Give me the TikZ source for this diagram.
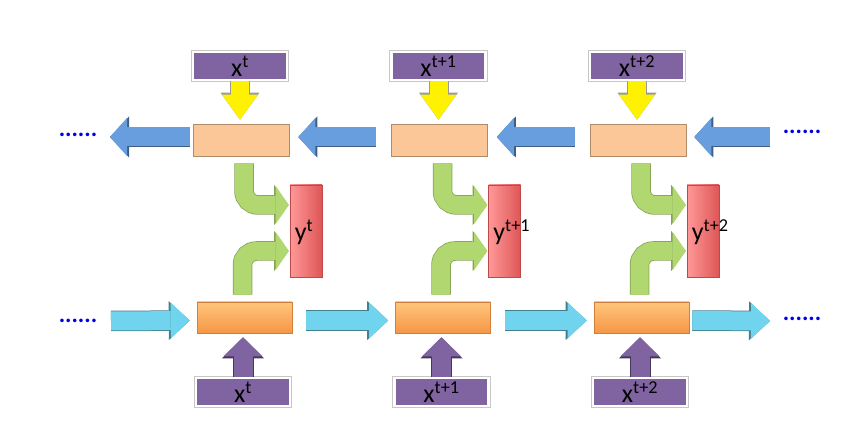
\documentclass[tikz,border=0pt]{standalone}
\usepackage{fontspec}
\setmainfont{Carlito}
\usetikzlibrary{arrows.meta,calc}
\definecolor{inpurple}{RGB}{128,100,162}
\definecolor{peach}{RGB}{252,199,152}
\definecolor{orangetop}{RGB}{255,198,124}
\definecolor{orangebot}{RGB}{246,150,70}
\definecolor{redleft}{RGB}{255,152,152}
\definecolor{redright}{RGB}{222,86,86}
\definecolor{fwdcyan}{RGB}{112,212,238}
\definecolor{bwdblue}{RGB}{104,158,222}
\definecolor{outgreen}{RGB}{176,215,112}
\definecolor{dotblue}{RGB}{0,0,230}
\tikzset{
  inbox/.style={fill=inpurple, draw=white, line width=2.5pt, minimum width=94pt, minimum height=28pt,
    inner sep=0pt, preaction={draw=black!22, line width=4.5pt}, font=\fontsize{26}{26}\selectfont},
  bwdcell/.style={fill=peach, draw=peach!70!black, line width=0.6pt, minimum width=96pt, minimum height=32pt},
  fwdcell/.style={top color=orangetop, bottom color=orangebot, draw=orangebot!85!black, line width=0.6pt,
    minimum width=95pt, minimum height=31pt},
  outcell/.style={left color=redleft, right color=redright, draw=redright!85!black, line width=0.6pt,
    minimum width=32pt, minimum height=92pt},
  lbl/.style={inner sep=0pt, font=\fontsize{26}{26}\selectfont},
  dots/.style={text=dotblue, font=\fontsize{24}{24}\bfseries},
  inarrow/.style={line width=18pt, draw=yellow, -{Triangle[length=25pt,width=36pt,line width=0pt]},
    preaction={draw=black!40, line width=20pt, -{Triangle[length=27pt,width=39pt,line width=0pt]}}},
  botarrow/.style={line width=19pt, draw=inpurple, -{Triangle[length=19pt,width=39pt,line width=0pt]},
    preaction={draw=inpurple!55!black, line width=21pt, -{Triangle[length=21pt,width=42pt,line width=0pt]}}},
  fwdarrow/.style={line width=19pt, draw=fwdcyan, -{Triangle[length=19pt,width=36pt,line width=0pt]},
    preaction={draw=fwdcyan!60!black, line width=20.5pt, -{Triangle[length=21pt,width=39pt,line width=0pt]}}},
  bwdarrow/.style={line width=19pt, draw=bwdblue, -{Triangle[length=17pt,width=38pt,line width=0pt]},
    preaction={draw=bwdblue!60!black, line width=20.5pt, -{Triangle[length=19pt,width=41pt,line width=0pt]}}},
  outarrow/.style={line width=18pt, draw=outgreen, rounded corners=14pt, -{Triangle[length=13pt,width=38pt,line width=0pt]},
    preaction={draw=outgreen!75!black, line width=19.5pt, -{Triangle[length=14.5pt,width=40pt,line width=0pt]}}},
}
\begin{document}
\begin{tikzpicture}[x=1pt, y=-1pt]
\useasboundingbox (0,0) rectangle (856,427);
% cells of the three time steps
\foreach \i/\s in {0/t,1/t+1,2/t+2} {
  \pgfmathsetmacro\cx{\i*198.5}
  \node[inbox] (xt\i) at (240+\cx,66) {x\textsuperscript{\s}};
  \node[bwdcell] (b\i) at (241+\cx,140) {};
  \node[outcell] (y\i) at (306+\cx,231) {};
  \node[fwdcell] (f\i) at (244.5+\cx,317.5) {};
  \node[inbox] (xb\i) at (243+\cx,392) {x\textsuperscript{\s}};
  \node[lbl, anchor=west] (yl\i) at ($(y\i.west)+(5,1)$) {y\textsuperscript{\s}};
  \draw[inarrow, shorten >=4pt] (xt\i.south) -- (xt\i.south |- b\i.north);
  \draw[botarrow, shorten >=4pt] (xb\i.north) -- (xb\i.north |- f\i.south);
  \draw[outarrow, shorten >=1pt] ($(b\i.south)+(3,7)$) |- ($(y\i.west)+(0,-26)$);
  \draw[outarrow, shorten >=1pt] ($(f\i.north)+(-2,-7)$) |- ($(y\i.west)+(0,20)$);
}
% open ends
\coordinate (fl) at (111,321);
\coordinate (fr) at (770,321);
\coordinate (bl) at (110,137);
\coordinate (br) at (770,137);
\node[dots] (dfl) at (78,321) {......};
\node[dots] (dfr) at (802,319) {......};
\node[dots] (dbl) at (78,135) {......};
\node[dots] (dbr) at (802,132) {......};
% forward chain
\draw[fwdarrow] (fl) -- ($(f0.west)+(-7,3)$);
\draw[fwdarrow] ($(f0.east)+(14,3)$) -- ($(f1.west)+(-7,3)$);
\draw[fwdarrow] ($(f1.east)+(14,3)$) -- ($(f2.west)+(-7,3)$);
\draw[fwdarrow] ($(f2.east)+(3,3)$) -- (fr);
% backward chain
\draw[bwdarrow] ($(b0.west)+(-3,-3)$) -- (bl);
\draw[bwdarrow] ($(b1.west)+(-15,-3)$) -- ($(b0.east)+(9,-3)$);
\draw[bwdarrow] ($(b2.west)+(-15,-3)$) -- ($(b1.east)+(9,-3)$);
\draw[bwdarrow] (br) -- ($(b2.east)+(8,-3)$);
\end{tikzpicture}
\end{document}
